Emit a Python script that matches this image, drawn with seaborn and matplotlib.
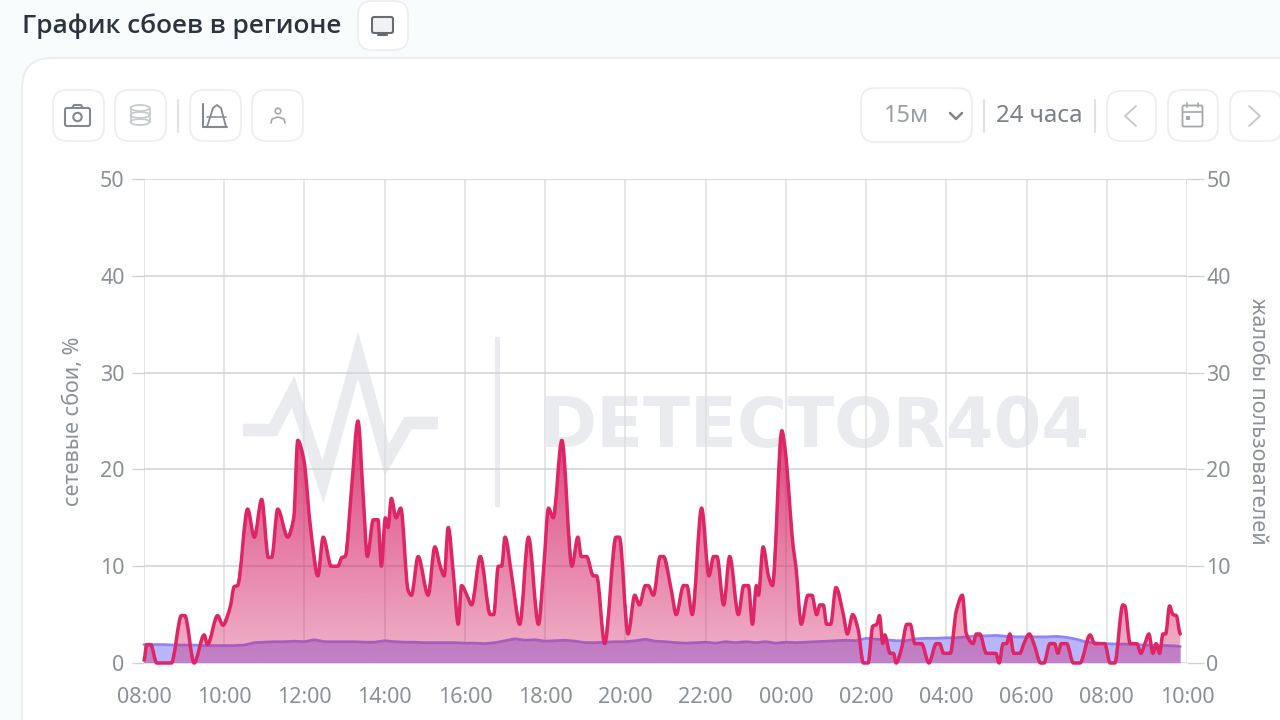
import numpy as np
import pandas as pd
import seaborn as sns
import matplotlib.pyplot as plt
from matplotlib.path import Path
from matplotlib.patches import FancyBboxPatch, Rectangle, Circle, Ellipse, PathPatch

# network failures, minutes since 08:00 and percent
fail_min = [0, 4, 10, 19, 41, 56, 61, 75, 90, 95, 110, 118, 129, 135, 140, 155, 165, 176, 186, 191,
            200, 215, 224, 230, 239, 249, 260, 268, 280, 290, 296, 301, 311, 320, 328, 334, 343, 350,
            355, 361, 365, 370, 377, 384, 395, 400, 410, 425, 435, 443, 449, 455, 463, 470, 475, 483,
            490, 503, 518, 523, 530, 535, 540, 550, 562, 575, 590, 598, 605, 612, 625, 640, 649, 654,
            662, 672, 677, 689, 706, 711, 724, 734, 741, 750, 754, 762, 772, 777, 789, 796, 807, 812,
            820, 834, 845, 852, 857, 867, 876, 889, 897, 904, 910, 916, 919, 926, 934, 940, 954, 959,
            971, 975, 983, 993, 999, 1006, 1011, 1016, 1021, 1027, 1035, 1046, 1052, 1060, 1068, 1076,
            1083, 1090, 1096, 1100, 1105, 1108, 1116, 1121, 1125, 1133, 1141, 1146, 1153, 1163, 1174,
            1185, 1190, 1196, 1206, 1215, 1224, 1230, 1240, 1245, 1250, 1260, 1274, 1279, 1285, 1290,
            1295, 1301, 1310, 1316, 1324, 1331, 1341, 1346, 1355, 1362, 1367, 1372, 1380, 1390, 1400,
            1415, 1422, 1437, 1445, 1452, 1464, 1467, 1475, 1485, 1491, 1497, 1503, 1509, 1514, 1519,
            1524, 1528, 1534, 1539, 1544, 1550]
fail_pct = [0.3, 1.9, 1.9, 0, 0, 4.9, 4.9, 0, 2.9, 1.9, 4.9, 3.9, 5.8, 7.9, 8, 15.9, 13, 16.9, 10.9, 10.9,
            15.9, 13, 15, 23, 21, 14, 9, 13, 10, 10, 10.9, 11, 18.5, 25, 17, 11, 14.8, 14.8,
            10, 15, 14, 17, 15, 16, 7.5, 7, 11, 7, 12, 10, 9, 14, 9, 4, 8, 7,
            6, 11, 5, 5, 10, 10, 13, 9, 4, 13, 4, 10, 16, 15, 23, 10, 13, 11,
            11, 9, 9, 2, 13, 13, 3, 7, 6, 8, 8, 7, 11, 11, 7.4, 5, 8, 8,
            5, 16, 9, 11, 11, 6, 11, 5, 8, 8, 4, 8, 7, 12, 9, 8, 24, 22,
            12, 10, 4, 7, 7, 5, 6, 6, 4, 4, 7.8, 5, 3, 5, 3.5, 0,
            0, 3.8, 4, 4.9, 2, 2.9, 1, 1, 0, 1.5, 4, 4, 2, 2, 0,
            2, 2, 1, 1, 5.4, 7, 3, 2, 3, 3, 1, 1, 0, 2, 2,
            3, 1, 1, 2, 3, 2, 0, 0, 2, 2, 1, 2, 2, 0, 0,
            2.9, 2, 2, 0, 0, 6, 5.9, 2, 2, 1, 2, 3, 1, 2, 1,
            3, 3, 5.9, 5, 4.9, 3]

# user complaints, one value per 15 minutes
complaint_min = list(range(0, 1546, 15)) + [1550]
complaint_val = [1.9, 1.9, 1.9, 1.85, 1.85, 1.85, 1.8, 1.8, 1.8, 1.8, 1.85, 2.1, 2.15, 2.2, 2.2, 2.25,
                 2.2, 2.4, 2.2, 2.2, 2.2, 2.2, 2.15, 2.15, 2.3, 2.2, 2.15, 2.15, 2.1, 2.1, 2.1, 2.1,
                 2.05, 2.05, 2.0, 2.1, 2.3, 2.5, 2.35, 2.4, 2.25, 2.3, 2.35, 2.25, 2.1, 2.1, 2.15,
                 2.2, 2.2, 2.3, 2.45, 2.25, 2.2, 2.1, 2.05, 2.1, 2.15, 2.05, 2.2, 2.1, 2.2, 2.1, 2.2,
                 2.05, 2.15, 2.1, 2.15, 2.2, 2.25, 2.3, 2.35, 2.3, 2.55, 2.45, 2.4, 2.3, 2.3, 2.5,
                 2.55, 2.55, 2.6, 2.6, 2.7, 2.8, 2.8, 2.85, 2.75, 2.7, 2.7, 2.7, 2.7, 2.75, 2.65,
                 2.45, 2.15, 2.05, 2.0, 1.95, 1.95, 1.9, 1.85, 1.8, 1.8, 1.75, 1.7]

hour_labels = ['08:00', '10:00', '12:00', '14:00', '16:00', '18:00', '20:00', '22:00', '00:00',
               '02:00', '04:00', '06:00', '08:00', '10:00']
y_ticks = [0, 10, 20, 30, 40, 50]

TICK_TXT = '#8b9197'
PINK = '#df2566'

sns.set_theme(style='white')
plt.rcParams['font.family'] = ['Noto Sans', 'DejaVu Sans']

fails = pd.DataFrame({'minute': fail_min, 'value': fail_pct})
complaints = pd.DataFrame({'minute': complaint_min, 'value': complaint_val})


def smooth_path(xs, ys):
    # same vertices as the data, joined with bezier segments (flat at local peaks)
    xs, ys = np.asarray(xs, float), np.asarray(ys, float)
    h = np.diff(xs)
    s = np.diff(ys) / h
    m = np.zeros(len(xs))
    for i in range(1, len(xs) - 1):
        if s[i - 1] * s[i] > 0:
            m[i] = 2 * s[i - 1] * s[i] / (s[i - 1] + s[i])
    verts = [(xs[0], ys[0])]
    codes = [Path.MOVETO]
    for i in range(len(h)):
        verts += [(xs[i] + h[i] / 3, ys[i] + m[i] * h[i] / 3),
                  (xs[i + 1] - h[i] / 3, ys[i + 1] - m[i + 1] * h[i] / 3),
                  (xs[i + 1], ys[i + 1])]
        codes += [Path.CURVE4] * 3
    return verts, codes


fig = plt.figure(figsize=(12.8, 7.2), dpi=100, facecolor='#f8fcfc')

# page furniture is drawn in pixel coordinates on a back layer
bg = fig.add_axes([0, 0, 1, 1], zorder=0)
bg.set_xlim(0, 1280)
bg.set_ylim(720, 0)
bg.axis('off')


def button(x0, y0, x1, y1, r=14):
    bg.add_patch(FancyBboxPatch((x0 + r, y0 + r), x1 - x0 - 2 * r, y1 - y0 - 2 * r,
                                boxstyle=f'round,pad={r}', fc='white', ec='#eceef0', lw=1.3))


def stroke(xs, ys, color='#8f9499', lw=1.6):
    bg.plot(xs, ys, color=color, lw=lw, solid_capstyle='round', solid_joinstyle='round')


bg.add_patch(FancyBboxPatch((52, 88), 1400, 800, boxstyle='round,pad=30', fc='white', ec='#e8ecee', lw=1.3))

bg.text(22, 26, 'График сбоев в регионе', fontsize=18.9, fontweight='semibold', color='#2c3440', va='center',
        family=['Open Sans', 'DejaVu Sans'])

for box in [(358, 1, 408, 50), (53, 90, 104, 141), (115, 90, 166, 141), (190, 90, 241, 141),
            (252, 90, 303, 141), (861, 88, 972, 142), (1107, 91, 1156, 141), (1168, 90, 1218, 141),
            (1230, 91, 1282, 141)]:
    button(*box)
for sep_x in [178, 984, 1095]:
    stroke([sep_x, sep_x], [100, 132], color='#dfe2e5', lw=1.5)

# monitor icon
bg.add_patch(FancyBboxPatch((374, 19), 17, 12, boxstyle='round,pad=2', fc='#f1f2f3', ec='#666c72', lw=1.5))
stroke([378, 387], [35, 35], color='#666c72', lw=1.5)
# camera icon
bg.add_patch(FancyBboxPatch((67, 110), 21, 14, boxstyle='round,pad=2', fc='none', ec='#84898f', lw=1.5))
stroke([72, 74, 81, 83], [108, 105, 105, 108], color='#84898f', lw=1.5)
bg.add_patch(Circle((77.5, 117), 4.2, fc='none', ec='#84898f', lw=1.5))
# database icon
for cy in [108, 115, 122]:
    bg.add_patch(Ellipse((140, cy), 19, 6, fc='none', ec='#c8cbce', lw=1.3))
stroke([130.5, 130.5], [108, 122], color='#c8cbce', lw=1.3)
stroke([149.5, 149.5], [108, 122], color='#c8cbce', lw=1.3)
# chart icon
stroke([203, 203, 227], [104, 127, 127], color='#84898f', lw=1.5)
stroke([207, 213, 217, 221, 226], [127, 108, 105, 108, 127], color='#84898f', lw=1.3)
stroke([207, 226], [117, 117], color='#84898f', lw=1.1)
# person icon
bg.add_patch(Circle((278, 111), 2.8, fc='none', ec='#a4a8ac', lw=1.2))
stroke([271, 272, 278, 284, 285], [123, 119, 117, 119, 123], color='#a4a8ac', lw=1.2)
# select and paging controls
bg.text(884, 116, '15м', fontsize=17, color='#9a9fa5', va='center')
stroke([950, 956, 962], [113, 119, 113], color='#7f848a', lw=1.8)
bg.text(996, 116, '24 часа', fontsize=17.3, color='#7b8087', va='center')
stroke([1136, 1125, 1136], [106, 116, 126], color='#c4c7ca', lw=1.3)
stroke([1249, 1260, 1249], [106, 116, 126], color='#c4c7ca', lw=1.3)
bg.add_patch(FancyBboxPatch((1184, 107), 17, 18, boxstyle='round,pad=1.5', fc='none', ec='#a4a8ac', lw=1.3))
stroke([1183, 1202], [112, 112], color='#a4a8ac', lw=1.2)
stroke([1187, 1187], [103, 107], color='#a4a8ac', lw=1.2)
stroke([1198, 1198], [103, 107], color='#a4a8ac', lw=1.2)
bg.add_patch(Rectangle((1186, 116), 4, 4, fc='#a4a8ac', ec='none'))

# watermark
MARK = '#e9ebee'
bg.plot([243, 273, 293, 323, 358, 387, 408, 438], [430, 430, 392, 482, 355, 460, 423, 423],
        color=MARK, lw=9, solid_joinstyle='miter', solid_capstyle='butt')
bg.add_patch(Rectangle((495, 337), 5, 170, fc=MARK, ec='none'))
bg.text(540, 428, 'DETECTOR404', fontsize=49.5, fontweight='bold', color=MARK, va='center',
        family=['DejaVu Sans'])

# plot area
ax = fig.add_axes([144 / 1280, 1 - 663 / 720, (1187 - 144) / 1280, (663 - 179) / 720], zorder=2)
ax.patch.set_alpha(0)
ax.set_xlim(0, 1560)
ax.set_ylim(0, 50)
ax.set_xticks(range(0, 1561, 120))
ax.set_xticklabels(hour_labels)
ax.set_yticks(y_ticks)
ax.grid(True, axis='y', color='#cfd2d6', lw=1.1)
ax.grid(True, axis='x', color='#dcdfe2', lw=1.1)
ax.set_axisbelow(True)
for side in ax.spines.values():
    side.set_visible(False)
ax.tick_params(axis='y', length=9, width=1, color='#cfd2d6', labelsize=15.5, labelcolor=TICK_TXT, pad=5)
ax.tick_params(axis='x', length=11, width=1, color='#dcdfe2', labelsize=15.5, labelcolor=TICK_TXT, pad=6.5)

ax.fill_between(complaints['minute'], complaints['value'], 0, color='#b9b5fc', lw=0, zorder=2)
sns.lineplot(data=complaints, x='minute', y='value', ax=ax, color='#8f85f5', lw=2, zorder=3,
             errorbar=None, estimator=None)

# pink area, alpha grows with height
verts, codes = smooth_path(fail_min, fail_pct)
closed = Path(verts + [(fail_min[-1], 0), (fail_min[0], 0), (fail_min[0], 0)],
              codes + [Path.LINETO, Path.LINETO, Path.CLOSEPOLY])
ramp = np.zeros((256, 1, 4))
ramp[:, 0, :3] = (211 / 255, 29 / 255, 97 / 255)
ramp[:, 0, 3] = np.linspace(0.34, 0.84, 256)
shade = ax.imshow(ramp, origin='lower', extent=[0, 1560, 0, 25.5], aspect='auto', zorder=4)
shade.set_clip_path(closed, transform=ax.transData)
ax.set_xlim(0, 1560)
ax.set_ylim(0, 50)

sns.lineplot(data=fails, x='minute', y='value', ax=ax, color=PINK, lw=1, zorder=5,
             errorbar=None, estimator=None)
ax.add_patch(PathPatch(Path(verts, codes), fc='none', ec=PINK, lw=2.5, joinstyle='round',
                       capstyle='round', zorder=6, clip_on=False))
for ln in ax.get_lines():
    ln.set_clip_on(False)

ax.set_xlabel('')
ax.set_ylabel('сетевые сбои, %', fontsize=15.5, color=TICK_TXT)
ax.yaxis.set_label_coords(-60 / 1043, 0.5)

right = ax.twinx()
right.set_zorder(1)
right.patch.set_alpha(0)
right.set_ylim(0, 50)
right.set_yticks(y_ticks)
for side in right.spines.values():
    side.set_visible(False)
right.tick_params(axis='y', length=12, width=1, color='#cfd2d6', labelsize=15.5, labelcolor=TICK_TXT, pad=2)
right.set_ylabel('жалобы пользователей', fontsize=15.5, color=TICK_TXT, rotation=270)
right.yaxis.set_label_coords(1 + 81 / 1043, 0.5)

fig.savefig('out.png', dpi=100, facecolor=fig.get_facecolor())
